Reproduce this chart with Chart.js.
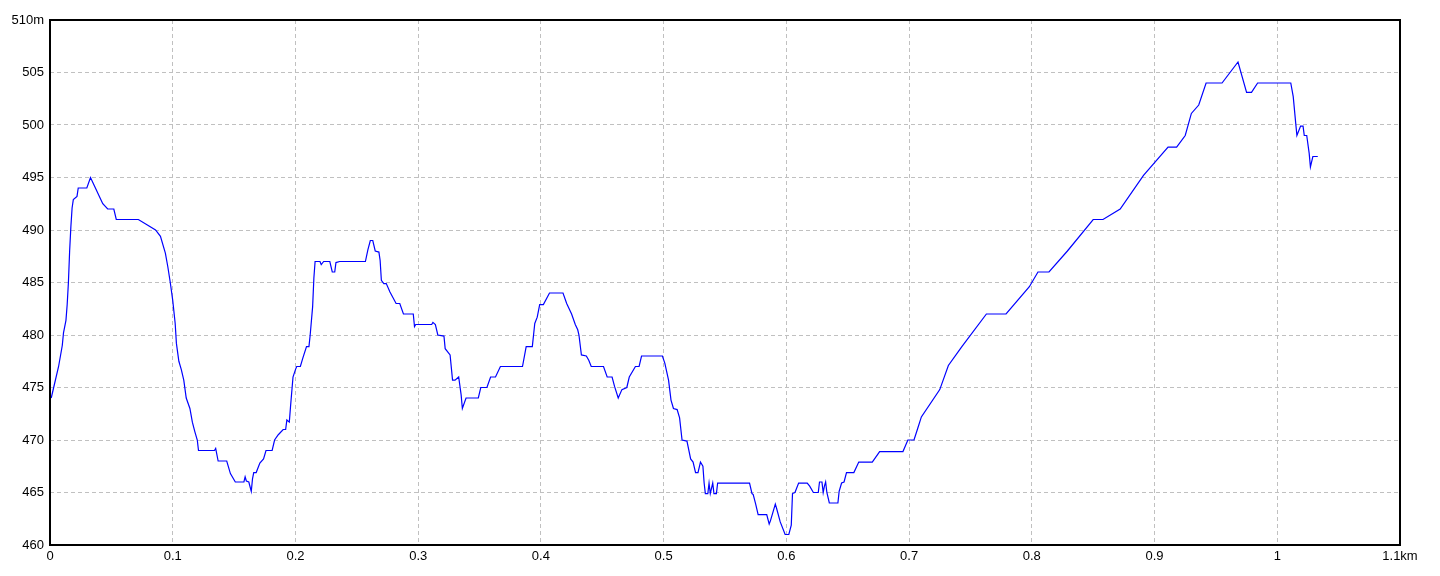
<!DOCTYPE html>
<html>
<head>
<meta charset="utf-8">
<script src="https://cdn.jsdelivr.net/npm/chart.js@4"></script>
<style>
  html, body { margin: 0; padding: 0; background: #fff; }
  #wrap { width: 1440px; height: 576px; }
</style>
</head>
<body>
<div id="wrap"><canvas id="profile" width="1440" height="576"></canvas></div>
<script>
const distKm = [
  0.001, 0.003, 0.007, 0.010, 0.011, 0.013, 0.014, 0.015, 0.016, 0.017, 0.018, 0.019, 0.022, 0.023,
  0.030, 0.033, 0.037, 0.041, 0.043, 0.047, 0.052, 0.054, 0.072, 0.079, 0.086, 0.090, 0.094, 0.096,
  0.098, 0.100, 0.102, 0.103, 0.105, 0.107, 0.109, 0.111, 0.114, 0.116, 0.118, 0.120, 0.121, 0.134,
  0.135, 0.137, 0.144, 0.147, 0.151, 0.158, 0.159, 0.160, 0.162, 0.164, 0.165, 0.166, 0.168, 0.171,
  0.174, 0.176, 0.181, 0.183, 0.186, 0.190, 0.192, 0.193, 0.195, 0.196, 0.198, 0.200, 0.201, 0.204,
  0.206, 0.209, 0.211, 0.212, 0.214, 0.215, 0.216, 0.220, 0.221, 0.223, 0.228, 0.230, 0.232, 0.233,
  0.236, 0.257, 0.259, 0.261, 0.263, 0.265, 0.268, 0.269, 0.270, 0.272, 0.274, 0.277, 0.282, 0.285,
  0.288, 0.296, 0.297, 0.298, 0.311, 0.312, 0.314, 0.316, 0.321, 0.322, 0.326, 0.328, 0.330, 0.333,
  0.335, 0.336, 0.339, 0.349, 0.351, 0.356, 0.359, 0.363, 0.367, 0.385, 0.388, 0.393, 0.395, 0.397,
  0.399, 0.402, 0.407, 0.418, 0.421, 0.425, 0.428, 0.430, 0.431, 0.433, 0.437, 0.439, 0.441, 0.451,
  0.454, 0.458, 0.460, 0.463, 0.466, 0.470, 0.472, 0.477, 0.480, 0.482, 0.499, 0.501, 0.504, 0.506,
  0.508, 0.511, 0.513, 0.515, 0.519, 0.522, 0.524, 0.526, 0.528, 0.530, 0.532, 0.533, 0.534, 0.536,
  0.537, 0.538, 0.540, 0.541, 0.543, 0.544, 0.570, 0.572, 0.573, 0.575, 0.577, 0.584, 0.586, 0.587,
  0.591, 0.592, 0.595, 0.599, 0.602, 0.604, 0.605, 0.607, 0.610, 0.617, 0.619, 0.622, 0.626, 0.627,
  0.629, 0.630, 0.631, 0.632, 0.633, 0.635, 0.642, 0.643, 0.645, 0.647, 0.649, 0.655, 0.659, 0.670,
  0.676, 0.695, 0.699, 0.704, 0.707, 0.710, 0.725, 0.732, 0.743, 0.763, 0.779, 0.798, 0.805, 0.814,
  0.829, 0.850, 0.858, 0.872, 0.891, 0.911, 0.918, 0.925, 0.930, 0.936, 0.942, 0.955, 0.968, 0.975,
  0.979, 0.984, 1.011, 1.013, 1.015, 1.016, 1.019, 1.021, 1.022, 1.024, 1.026, 1.027, 1.029, 1.033
];
const altitudeM = [
  474, 475, 477, 479, 480.2, 481.4, 482.9, 485, 488, 490.3, 492.1, 492.9, 493.2, 494,
  494, 495, 494, 493, 492.5, 492, 492, 491, 491, 490.5, 490, 489.4, 487.8, 486.5,
  485, 483.3, 481.1, 479.2, 477.5, 476.7, 475.7, 474, 473, 471.7, 470.8, 470, 469, 469,
  469.2, 468, 468, 466.8, 466, 466, 466.5, 466.1, 466, 465.1, 466.3, 466.9, 466.9, 467.8,
  468.2, 469, 469, 470, 470.5, 471, 471, 471.9, 471.7, 473.2, 476, 476.7, 477, 477,
  477.8, 478.9, 478.9, 480, 482.7, 485.4, 487, 487, 486.7, 487, 487, 486, 486, 486.9,
  487, 487, 488.1, 489, 489, 488, 487.9, 487.1, 485.2, 484.9, 484.9, 484.1, 483, 483,
  482, 482, 480.8, 481, 481, 481.2, 481, 480, 479.9, 478.7, 478.1, 475.7, 475.7, 476,
  474.3, 473, 474, 474, 475, 475, 476, 476, 477, 477, 478.9, 478.9, 481.1, 481.7,
  482.9, 482.9, 484, 484, 483, 482, 481, 480.5, 480, 478.1, 478, 477.6, 477, 477,
  476, 476, 475.1, 474, 474.8, 475, 476, 477, 477, 478, 478, 477.3, 475.7, 473.8,
  473, 472.9, 472.1, 470, 469.9, 468.2, 467.9, 466.9, 466.9, 467.9, 467.5, 465.9, 464.9, 464.9,
  465.9, 464.9, 465.9, 464.9, 464.9, 465.9, 465.9, 464.9, 464.8, 463.9, 462.9, 462.9, 462, 462.3,
  463.9, 463.5, 462.2, 461, 461, 461.9, 464.9, 465, 465.9, 465.9, 465.6, 465, 465, 466,
  466, 465, 465.6, 466, 465, 464, 464, 465.1, 465.9, 466, 466.9, 466.9, 467.9, 467.9,
  468.9, 468.9, 470, 470, 471.1, 472.2, 474.8, 477.1, 478.9, 482, 482, 484.6, 486, 486,
  488, 491, 491, 492, 495.2, 497.9, 497.9, 499, 501.1, 501.9, 504, 504, 506, 503.1,
  503.1, 504, 504, 502.7, 500.2, 499, 499.9, 499.9, 499, 499, 497.3, 496, 497, 497
];

// eixos
const xMin = 0, xMax = 1.1, xStep = 0.1;
const yMin = 460, yMax = 510, yStep = 5;
const xUnit = 'km', yUnit = 'm';

const pontos = distKm.map((d, i) => ({ x: d, y: altitudeM[i] }));

// moldura preta em volta da area do grafico
const moldura = {
  id: 'moldura',
  afterDraw(chart) {
    const a = chart.chartArea;
    const ctx = chart.ctx;
    ctx.save();
    ctx.strokeStyle = '#000';
    ctx.lineWidth = 2;
    ctx.strokeRect(a.left, a.top, a.right - a.left, a.bottom - a.top);
    ctx.restore();
  }
};

const fonte = { family: '"Liberation Sans Narrow", "Liberation Sans", Arial, sans-serif', size: 13 };

new Chart(document.getElementById('profile').getContext('2d'), {
  type: 'line',
  data: {
    datasets: [{
      data: pontos,
      borderColor: '#0000ff',
      borderWidth: 1.2,
      pointRadius: 0,
      tension: 0,
      fill: false
    }]
  },
  options: {
    responsive: false,
    animation: false,
    layout: { padding: { top: 20, right: 40, left: 0, bottom: 0 } },
    plugins: { legend: { display: false }, tooltip: { enabled: false } },
    scales: {
      x: {
        type: 'linear',
        min: xMin,
        max: xMax,
        afterFit: s => { s.height = 31; },
        ticks: {
          stepSize: xStep,
          color: '#000',
          font: fonte,
          padding: 4,
          maxRotation: 0,
          callback: v => {
            const r = Math.round(v * 10) / 10;
            return r === xMax ? r + xUnit : String(r);
          }
        },
        grid: { color: '#c0c0c0', drawTicks: false },
        border: { display: false, dash: [4, 3] }
      },
      y: {
        min: yMin,
        max: yMax,
        afterFit: s => { s.width = 50; },
        ticks: {
          stepSize: yStep,
          color: '#000',
          font: fonte,
          padding: 6,
          callback: v => v === yMax ? v + yUnit : String(v)
        },
        grid: { color: '#c0c0c0', drawTicks: false },
        border: { display: false, dash: [4, 3] }
      }
    }
  },
  plugins: [moldura]
});
</script>
</body>
</html>
